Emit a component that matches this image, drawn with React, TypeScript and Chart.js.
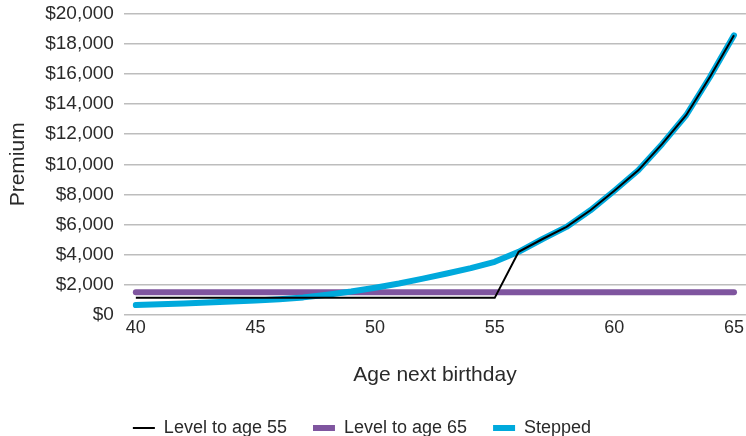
import React from 'react';

import Chart from 'chart.js/auto';

// age next birthday, one point per year
const ages = [
    40, 41, 42, 43, 44, 45, 46, 47, 48, 49, 50, 51, 52,
    53, 54, 55, 56, 57, 58, 59, 60, 61, 62, 63, 64, 65,
];

const levelTo55 = [
    1150, 1150, 1150, 1150, 1150, 1150, 1150, 1150, 1150, 1150, 1150, 1150, 1150,
    1150, 1150, 1150, 4200, 5050, 5850, 6950, 8250, 9600, 11350, 13250, 15800, 18550,
];

const levelTo65 = [
    1520, 1520, 1520, 1520, 1520, 1520, 1520, 1520, 1520, 1520, 1520, 1520, 1520,
    1520, 1520, 1520, 1520, 1520, 1520, 1520, 1520, 1520, 1520, 1520, 1520, 1520,
];

const stepped = [
    670, 720, 780, 840, 900, 970, 1060, 1180, 1360, 1570, 1820, 2100, 2420,
    2760, 3120, 3540, 4200, 5050, 5850, 6950, 8250, 9600, 11350, 13250, 15800, 18550,
];

const xTicks = [40, 45, 50, 55, 60, 65];

const FONT = '"Liberation Sans", Arial, sans-serif';
const TEXT = '#2a2a2a';

// nudge the legend a little to the left and down, like the original
const legendNudge = {
    id: 'legendNudge',
    afterLayout(chart: any) {
        const legend = chart.legend;
        if (!legend) return;
        legend.left -= 14;
        legend.right -= 14;
        legend.top += 3;
        legend.bottom += 3;
    },
};

const PremiumChart = () => {
    const canvasRef = React.useRef<HTMLCanvasElement>(null);

    React.useEffect(() => {
        if (!canvasRef.current) return;

        const toPoints = (values: number[]) => values.map((y, i) => ({ x: ages[i], y }));

        const chart = new Chart(canvasRef.current, {
            type: 'line',
            data: {
                datasets: [
                    {
                        label: 'Level to age 55',
                        data: toPoints(levelTo55),
                        borderColor: '#000000',
                        backgroundColor: '#000000',
                        borderWidth: 2,
                        pointRadius: 0,
                        order: 0,
                    },
                    {
                        label: 'Level to age 65',
                        data: toPoints(levelTo65),
                        borderColor: '#7f559f',
                        backgroundColor: '#7f559f',
                        borderWidth: 6,
                        borderCapStyle: 'round',
                        pointRadius: 0,
                        order: 2,
                    },
                    {
                        label: 'Stepped',
                        data: toPoints(stepped),
                        borderColor: '#00a9dc',
                        backgroundColor: '#00a9dc',
                        borderWidth: 6,
                        borderCapStyle: 'round',
                        borderJoinStyle: 'round',
                        pointRadius: 0,
                        order: 1,
                    },
                ],
            },
            plugins: [legendNudge],
            options: {
                animation: false,
                responsive: true,
                maintainAspectRatio: false,
                layout: { padding: { left: 6, right: 0, top: 0, bottom: -8 } },
                plugins: {
                    tooltip: { enabled: false },
                    legend: {
                        position: 'bottom',
                        labels: {
                            usePointStyle: true,
                            pointStyle: 'line',
                            pointStyleWidth: 22,
                            padding: 26,
                            color: TEXT,
                            font: { family: FONT, size: 18 },
                            sort: (a, b) => a.datasetIndex - b.datasetIndex,
                        },
                    },
                },
                scales: {
                    x: {
                        type: 'linear',
                        min: 39.5,
                        max: 65.5,
                        afterBuildTicks: (axis) => {
                            axis.ticks = xTicks.map((value) => ({ value }));
                        },
                        grid: { display: false, drawTicks: false },
                        border: { display: false },
                        ticks: {
                            color: TEXT,
                            font: { family: FONT, size: 18 },
                            padding: 2,
                            maxRotation: 0,
                        },
                        title: {
                            display: true,
                            text: 'Age next birthday',
                            color: TEXT,
                            font: { family: FONT, size: 21 },
                            padding: { top: 22, bottom: 2 },
                        },
                    },
                    y: {
                        min: 0,
                        max: 20000,
                        ticks: {
                            stepSize: 2000,
                            color: TEXT,
                            font: { family: FONT, size: 19 },
                            padding: 2,
                            callback: (v) => '$' + Number(v).toLocaleString('en-US'),
                        },
                        grid: {
                            color: '#bdbdbd',
                            lineWidth: 1.5,
                            drawTicks: true,
                            tickLength: 8,
                            tickColor: 'rgba(0,0,0,0)',
                        },
                        border: { display: false },
                        title: {
                            display: true,
                            text: 'Premium',
                            color: TEXT,
                            font: { family: FONT, size: 21 },
                            padding: { top: 0, bottom: 12 },
                        },
                    },
                },
            },
        });

        return () => {
            chart.destroy();
        };
    }, []);

    return (
        <div style={{ position: 'absolute', left: 0, top: 0, width: 746, height: 436, background: '#fff' }}>
            <canvas ref={canvasRef}></canvas>
        </div>
    );
};

export default function App() {
    return <PremiumChart />;
}
